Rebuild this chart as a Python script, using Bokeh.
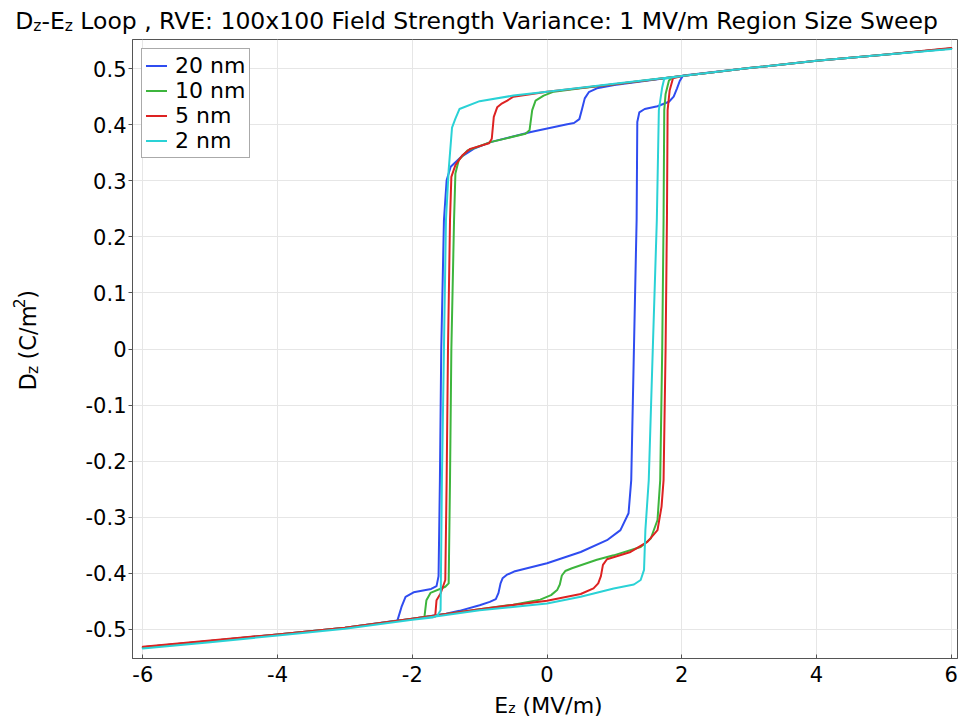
import math
from bokeh.plotting import figure
from bokeh.layouts import column, row
from bokeh.models import Label, Legend, LegendItem, FixedTicker, Range1d
from bokeh.embed import file_html
from bokeh.resources import INLINE

# ---------------- data ----------------
series_names = ["20 nm", "10 nm", "5 nm", "2 nm"]
series_colors = ["#2f4cf0", "#3db53d", "#dd2222", "#2ad2d6"]

# 20 nm : ascending branch (E increasing) then descending branch
e_20nm_up = [-6, -5, -4, -3, -2, -1.5, -1.3, -1.0, -0.85, -0.76, -0.72, -0.69, -0.66, -0.60, -0.49,
             0.0, 0.5, 0.89, 1.09, 1.21, 1.25, 1.29, 1.33, 1.34, 1.37, 1.45, 1.64, 1.81, 1.88, 1.93,
             1.97, 2.02, 3, 4, 5, 6]
d_20nm_up = [-0.532, -0.521, -0.509, -0.497, -0.481, -0.472, -0.467, -0.457, -0.451, -0.446, -0.435,
             -0.418, -0.409, -0.403, -0.397, -0.382, -0.362, -0.341, -0.323, -0.293, -0.234, 0.0, 0.23,
             0.405, 0.422, 0.428, 0.433, 0.441, 0.450, 0.465, 0.478, 0.488, 0.501, 0.514, 0.525, 0.536]
e_20nm_down = [5, 4, 3, 2, 1.5, 1.0, 0.74, 0.62, 0.56, 0.52, 0.48, 0.40, 0.30, -0.24, -0.84, -1.09,
               -1.28, -1.43, -1.49, -1.53, -1.57, -1.59, -1.61, -1.64, -1.72, -1.98, -2.10, -2.16,
               -2.22, -3, -4, -5, -6]
d_20nm_down = [0.525, 0.514, 0.501, 0.487, 0.479, 0.471, 0.465, 0.458, 0.447, 0.428, 0.410, 0.403,
               0.401, 0.387, 0.369, 0.357, 0.342, 0.325, 0.301, 0.23, 0.0, -0.234, -0.405, -0.423,
               -0.428, -0.434, -0.442, -0.460, -0.484, -0.497, -0.509, -0.521, -0.532]

# 10 nm
e_10nm_up = [-6, -5, -4, -3, -2, -1, -0.5, -0.1, 0.06, 0.15, 0.19, 0.22, 0.27, 0.37, 0.74, 0.99, 1.39,
             1.54, 1.64, 1.68, 1.71, 1.73, 1.74, 1.76, 1.81, 1.86, 2, 3, 4, 5, 6]
d_10nm_up = [-0.532, -0.521, -0.509, -0.497, -0.481, -0.464, -0.456, -0.447, -0.439, -0.430, -0.420,
             -0.404, -0.396, -0.391, -0.376, -0.368, -0.353, -0.338, -0.305, -0.234, 0.0, 0.23, 0.426,
             0.455, 0.479, 0.484, 0.487, 0.501, 0.514, 0.525, 0.536]
e_10nm_down = [5, 4, 3, 2, 1, 0.5, 0.1, -0.05, -0.17, -0.22, -0.26, -0.32, -0.84, -1.18, -1.31, -1.36,
               -1.38, -1.42, -1.44, -1.46, -1.51, -1.73, -1.79, -1.82, -2, -3, -4, -5, -6]
d_10nm_down = [0.525, 0.514, 0.501, 0.487, 0.472, 0.465, 0.459, 0.452, 0.443, 0.426, 0.390, 0.384,
               0.369, 0.354, 0.337, 0.313, 0.23, 0.0, -0.234, -0.418, -0.424, -0.435, -0.448, -0.478,
               -0.481, -0.497, -0.509, -0.521, -0.532]

# 5 nm
e_5nm_up = [-6, -5, -4, -3, -2, -1, 0, 0.5, 0.69, 0.76, 0.80, 0.83, 0.89, 1.24, 1.49, 1.64, 1.70, 1.73,
            1.76, 1.78, 1.79, 1.82, 1.87, 2, 3, 4, 5, 6]
d_5nm_up = [-0.531, -0.520, -0.509, -0.497, -0.481, -0.464, -0.449, -0.437, -0.427, -0.418, -0.405,
            -0.385, -0.375, -0.362, -0.344, -0.323, -0.281, -0.234, 0.0, 0.23, 0.426, 0.461, 0.483,
            0.487, 0.501, 0.514, 0.525, 0.537]
e_5nm_down = [5, 4, 3, 2, 1, 0, -0.5, -0.59, -0.68, -0.74, -0.79, -0.82, -0.86, -1.14, -1.26, -1.36,
              -1.42, -1.44, -1.47, -1.49, -1.51, -1.58, -1.64, -1.66, -2, -3, -4, -5, -6]
d_5nm_down = [0.525, 0.514, 0.501, 0.487, 0.472, 0.459, 0.450, 0.443, 0.437, 0.431, 0.414, 0.375,
              0.367, 0.357, 0.345, 0.328, 0.307, 0.23, 0.0, -0.234, -0.412, -0.436, -0.448, -0.477,
              -0.481, -0.497, -0.509, -0.520, -0.531]

# 2 nm
e_2nm_up = [-6, -5, -4, -3, -2, -1, 0, 0.5, 0.99, 1.29, 1.39, 1.44, 1.46, 1.51, 1.57, 1.63, 1.66, 1.71,
            1.74, 2, 3, 4, 5, 6]
d_2nm_up = [-0.534, -0.523, -0.511, -0.499, -0.483, -0.466, -0.454, -0.442, -0.427, -0.420, -0.412,
            -0.394, -0.323, -0.234, 0.0, 0.23, 0.426, 0.467, 0.482, 0.487, 0.501, 0.514, 0.525, 0.535]
e_2nm_down = [5, 4, 3, 2, 1, 0, -0.5, -1, -1.3, -1.36, -1.41, -1.46, -1.50, -1.53, -1.56, -1.58, -1.62,
              -1.70, -2, -3, -4, -5, -6]
d_2nm_down = [0.525, 0.514, 0.501, 0.487, 0.473, 0.459, 0.452, 0.442, 0.428, 0.411, 0.395, 0.319,
              0.23, 0.0, -0.234, -0.466, -0.474, -0.479, -0.483, -0.499, -0.511, -0.523, -0.534]

x_ticks = [-6, -4, -2, 0, 2, 4, 6]
x_tick_labels = ["-6", "-4", "-2", "0", "2", "4", "6"]
y_ticks = [-0.5, -0.4, -0.3, -0.2, -0.1, 0, 0.1, 0.2, 0.3, 0.4, 0.5]
y_tick_labels = ["-0.5", "-0.4", "-0.3", "-0.2", "-0.1", "0", "0.1", "0.2", "0.3", "0.4", "0.5"]

title_rest = " Loop , RVE: 100x100 Field Strength Variance: 1 MV/m Region Size Sweep"

FONT = "DejaVu Sans"

# canvas split (pixels): title strip 0..38, plot row 38..690, x-label strip 690..717
TITLE_H, ROW_H, XLAB_H = 38, 652, 27
YLAB_W, MAIN_W = 60, 899

# ---------------- main figure ----------------
p = figure(width=MAIN_W, height=ROW_H, output_backend="svg", toolbar_location=None, title=None,
           x_range=Range1d(-6.153, 6.093), y_range=Range1d(-0.552, 0.552),
           min_border_left=72, min_border_right=2, min_border_top=1, min_border_bottom=32)
p.background_fill_color = "white"
p.border_fill_color = "white"
p.outline_line_color = "#555555"
p.outline_line_width = 1

p.xaxis.ticker = FixedTicker(ticks=x_ticks)
p.yaxis.ticker = FixedTicker(ticks=y_ticks)
p.xaxis.major_label_overrides = {t: l for t, l in zip(x_ticks, x_tick_labels)}
p.yaxis.major_label_overrides = {t: l for t, l in zip(y_ticks, y_tick_labels)}
for ax in (p.xaxis[0], p.yaxis[0]):
    ax.axis_line_color = "#555555"
    ax.major_tick_line_color = "#555555"
    ax.minor_tick_line_color = None
    ax.major_label_text_font = FONT
    ax.major_label_text_font_size = "21px"
    ax.major_label_text_color = "black"
p.xaxis.major_tick_in = 4
p.xaxis.major_tick_out = 0
p.xaxis.major_label_standoff = 7
p.yaxis.major_tick_in = 0
p.yaxis.major_tick_out = 4
p.yaxis.major_label_standoff = 2

p.grid.grid_line_color = "#e6e6e6"
p.grid.grid_line_width = 1

series = [
    (e_20nm_up + e_20nm_down, d_20nm_up + d_20nm_down),
    (e_10nm_up + e_10nm_down, d_10nm_up + d_10nm_down),
    (e_5nm_up + e_5nm_down, d_5nm_up + d_5nm_down),
    (e_2nm_up + e_2nm_down, d_2nm_up + d_2nm_down),
]
items = []
for (e, d), name, col in zip(series, series_names, series_colors):
    r = p.line(e, d, line_color=col, line_width=2, line_join="round", line_cap="round")
    items.append(LegendItem(label=name, renderers=[r]))

legend = Legend(items=items, location="top_left", margin=9, padding=4, spacing=0,
                glyph_width=21, glyph_height=21, label_height=21, label_standoff=8,
                label_text_font=FONT, label_text_font_size="22px", label_text_color="black",
                border_line_color="#555555", border_line_width=1,
                background_fill_color="white", background_fill_alpha=1.0)
p.add_layout(legend, "center")


# ---------------- text strips (coordinates = canvas pixels) ----------------
def strip(w, h, x0, x1, y_top, y_bottom):
    f = figure(width=w, height=h, output_backend="svg", toolbar_location=None, title=None,
               x_range=Range1d(x0, x1), y_range=Range1d(y_bottom, y_top),
               x_axis_location=None, y_axis_location=None,
               min_border_left=0, min_border_right=0, min_border_top=0, min_border_bottom=0)
    f.outline_line_color = None
    f.grid.grid_line_color = None
    f.background_fill_color = "white"
    f.border_fill_color = "white"
    return f


title_fig = strip(959, TITLE_H, 0, 959, 0, TITLE_H)
ylab_fig = strip(YLAB_W, ROW_H, 0, YLAB_W, TITLE_H, TITLE_H + ROW_H)
xlab_fig = strip(959, XLAB_H, 0, 959, TITLE_H + ROW_H, TITLE_H + ROW_H + XLAB_H)

W = {' ': .318, '-': .361, ',': .318, '.': .318, ':': .337, '/': .337, '(': .390, ')': .390,
     'C': .698, 'D': .770, 'E': .632, 'F': .575, 'L': .557, 'M': .863, 'R': .695, 'S': .635,
     'V': .684, 'a': .613, 'c': .550, 'd': .635, 'e': .615, 'g': .635, 'h': .634, 'i': .278,
     'l': .278, 'm': .974, 'n': .634, 'o': .612, 'p': .635, 'r': .411, 't': .392, 'w': .818,
     'x': .592, 'z': .525}

BASE_SHIFT = 6   # label baseline renders this many px lower (text-local) than requested


def tw(s, size):
    return sum(W.get(c, .636) for c in s) * size


def put(f, text, x, y, size, angle=0.0):
    f.add_layout(Label(x=x, y=y, text=text, text_font=FONT, text_font_size=f"{size}px",
                       text_color="black", text_align="left", text_baseline="alphabetic",
                       angle=angle))


def horizontal(f, parts, center_x, baseline_y):
    total = sum(tw(t, s) for t, s, _ in parts)
    x = center_x - total / 2
    for t, s, dy in parts:
        lead = len(t) - len(t.lstrip(" "))
        put(f, t.lstrip(" "), x + lead * W[' '] * s, baseline_y + dy - BASE_SHIFT, s)
        x += tw(t, s)


def vertical(f, parts, baseline_x, center_y):
    total = sum(tw(t, s) for t, s, _ in parts)
    y = center_y + total / 2
    for t, s, dx in parts:
        lead = len(t) - len(t.lstrip(" "))
        put(f, t.lstrip(" "), baseline_x + dx - BASE_SHIFT, y - lead * W[' '] * s, s,
            angle=math.pi / 2)
        y -= tw(t, s)


TITLE_SIZE, AXIS_SIZE, SMALL = 23.5, 22.5, 15.5
horizontal(title_fig, [("D", TITLE_SIZE, 0), ("z", SMALL, 5), ("-E", TITLE_SIZE, 0), ("z", SMALL, 5),
                       (title_rest, TITLE_SIZE, 0)], 479.5, 26.5)
horizontal(xlab_fig, [("E", 22, 0), ("z", 14, 2), (" (MV/m)", 22, 0)], 548, 711)
vertical(ylab_fig, [("D", AXIS_SIZE, 0), ("z", SMALL, 5), (" (C/m", AXIS_SIZE, 0), ("2", SMALL, -9),
                    (")", AXIS_SIZE, 0)], 33, 355)

layout = column(title_fig, row(ylab_fig, p), xlab_fig)
open("out.html", "w").write(file_html(layout, INLINE))
